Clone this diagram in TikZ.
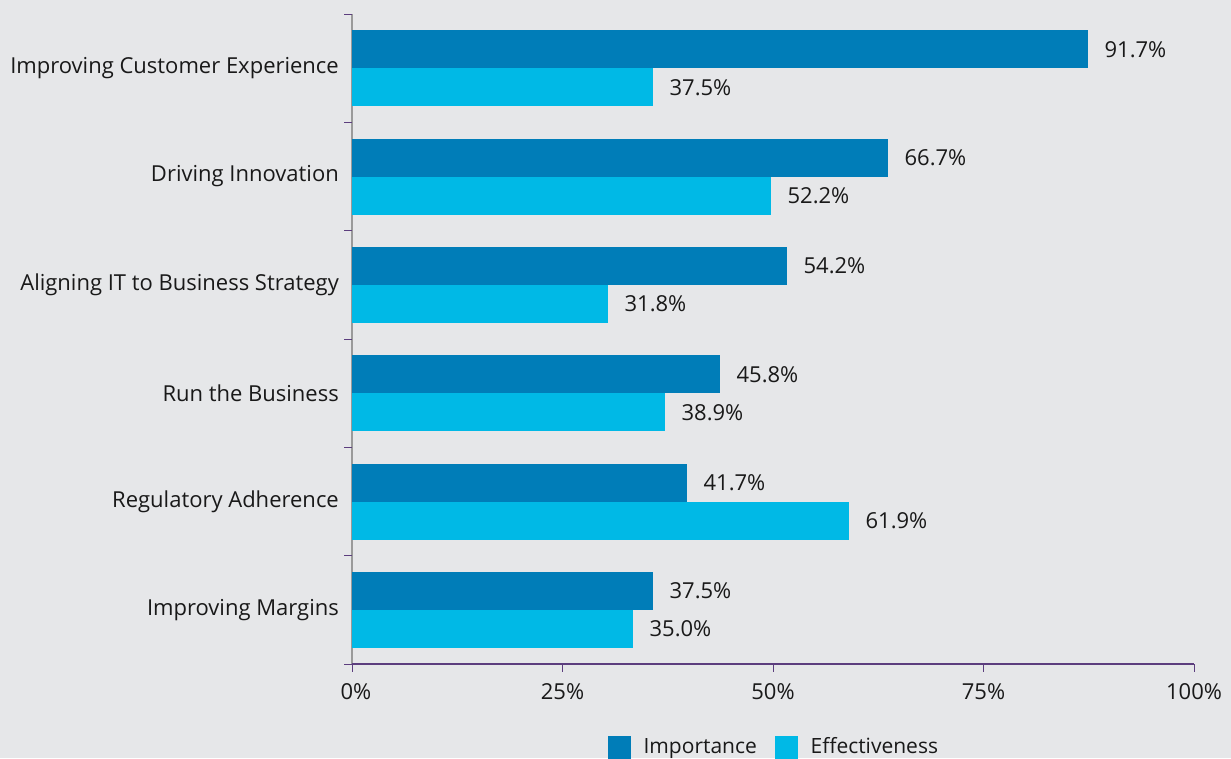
\documentclass[tikz,border=0pt]{standalone}
\usepackage{fontspec}
\setmainfont{Open Sans}
\usepackage{xcolor}
\usepackage{tikz}
\usetikzlibrary{positioning,calc}
\definecolor{bgcol}{HTML}{E6E7E9}
\definecolor{impcol}{HTML}{007DB8}
\definecolor{effcol}{HTML}{00B9E6}
\definecolor{axcol}{HTML}{5C3E7E}
\definecolor{vaxcol}{HTML}{9A9A9A}
\tikzset{
  chartfont/.style = {font=\fontsize{22}{25}\selectfont, text=black!90},
  bar/.style = {rectangle, inner sep=0pt, anchor=west, minimum height=38pt},
  impbar/.style = {bar, fill=impcol},% importance, dark
  effbar/.style = {bar, fill=effcol},% effectiveness, light
  vallabel/.style = {chartfont, inner sep=0pt, right=16pt of #1},% value after a bar
  catlabel/.style = {chartfont, inner sep=0pt, anchor=east},% category name
  ticklabel/.style = {chartfont, inner sep=0pt},
  legbox/.style = {rectangle, inner sep=0pt, minimum size=23pt, anchor=north west},
  legtext/.style = {chartfont, font=\fontsize{21}{24}\selectfont, inner sep=0pt, anchor=base west}
}
\begin{document}
\begin{tikzpicture}[x=1pt, y=-1pt]

\fill[bgcol] (0,0) rectangle (1231,758);
\useasboundingbox (0,0) rectangle (1231,758);

% axes
\coordinate (top) at (352,14);
\coordinate (orig) at (352,664);
\coordinate (xend) at (1194,664);
\draw[vaxcol, line width=1.2pt] (top) -- (orig);
\draw[axcol, line width=1.2pt] (orig) -- (xend);
\foreach \yy in {14,122.33,230.67,339,447.33,555.67,664}
	\draw[axcol, line width=1pt] (344,\yy) -- (352,\yy);
\foreach \xx in {352,562.5,773,983.5,1194}
	\draw[axcol, line width=1pt] (\xx,664) -- (\xx,672);

% Improving Customer Experience
\node[impbar, minimum width=736pt] (imp1) at (352,49.2) {};
\node[effbar, minimum width=301pt] (eff1) at (352,87.2) {};
\node[vallabel=imp1] (vi1) {91.7\%};
\node[vallabel=eff1] (ve1) {37.5\%};
\node[catlabel] (c1) at (339,68.2) {Improving Customer Experience};

% Driving Innovation
\node[impbar, minimum width=536pt] (imp2) at (352,157.5) {};
\node[effbar, minimum width=419pt] (eff2) at (352,195.5) {};
\node[vallabel=imp2] (vi2) {66.7\%};
\node[vallabel=eff2] (ve2) {52.2\%};
\node[catlabel] (c2) at (339,176.5) {Driving Innovation};

% Aligning IT to Business Strategy
\node[impbar, minimum width=435pt] (imp3) at (352,265.8) {};
\node[effbar, minimum width=256pt] (eff3) at (352,303.8) {};
\node[vallabel=imp3] (vi3) {54.2\%};
\node[vallabel=eff3] (ve3) {31.8\%};
\node[catlabel] (c3) at (339,284.8) {Aligning IT to Business Strategy};

% Run the Business
\node[impbar, minimum width=368pt] (imp4) at (352,374.2) {};
\node[effbar, minimum width=313pt] (eff4) at (352,412.2) {};
\node[vallabel=imp4] (vi4) {45.8\%};
\node[vallabel=eff4] (ve4) {38.9\%};
\node[catlabel] (c4) at (339,393.2) {Run the Business};

% Regulatory Adherence
\node[impbar, minimum width=335pt] (imp5) at (352,482.5) {};
\node[effbar, minimum width=497pt] (eff5) at (352,520.5) {};
\node[vallabel=imp5] (vi5) {41.7\%};
\node[vallabel=eff5] (ve5) {61.9\%};
\node[catlabel] (c5) at (339,501.5) {Regulatory Adherence};

% Improving Margins
\node[impbar, minimum width=301pt] (imp6) at (352,590.8) {};
\node[effbar, minimum width=281pt] (eff6) at (352,628.8) {};
\node[vallabel=imp6] (vi6) {37.5\%};
\node[vallabel=eff6] (ve6) {35.0\%};
\node[catlabel] (c6) at (339,609.8) {Improving Margins};

% x axis labels
\node[ticklabel] (t0) at (356,692) {0\%};
\node[ticklabel] (t25) at (562.5,692) {25\%};
\node[ticklabel] (t50) at (773,692) {50\%};
\node[ticklabel] (t75) at (983.5,692) {75\%};
\node[ticklabel] (t100) at (1194,692) {100\%};

% legend
\node[legbox, fill=impcol] (legimp) at (608,736) {};
\node[legtext] (legimptxt) at ($(legimp.north east)+(12,17)$) {Importance};
\node[legbox, fill=effcol] (legeff) at (775,736) {};
\node[legtext] (legefftxt) at ($(legeff.north east)+(12,17)$) {Effectiveness};

\end{tikzpicture}
\end{document}
